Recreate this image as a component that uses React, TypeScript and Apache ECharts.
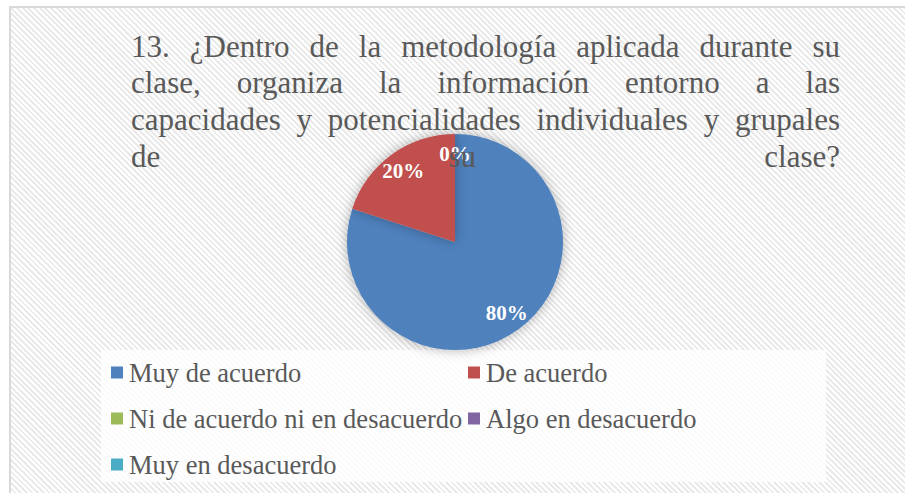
import React, { useEffect, useRef } from "react";
import * as echarts from "echarts";

const categories = [
  "Muy de acuerdo",
  "De acuerdo",
  "Ni de acuerdo ni en desacuerdo",
  "Algo en desacuerdo",
  "Muy en desacuerdo",
];
const values = [80, 20, 0, 0, 0];
const colors = ["#4f81bd", "#c0504d", "#9bbb59", "#8064a2", "#4bacc6"];
const titleLines = [
  "13. ¿Dentro de la metodología aplicada durante su",
  "clase, organiza la información entorno a las",
  "capacidades y potencialidades individuales y grupales",
  "de su clase?",
];

const FONT = "Liberation Serif";

export default function App() {
  const ref = useRef<HTMLDivElement>(null);

  useEffect(() => {
    if (!ref.current) return;
    const chart = echarts.init(ref.current, undefined, { renderer: "svg" });

    const canvas = document.createElement("canvas");
    const ctx = canvas.getContext("2d")!;
    const titleSize = 31;
    ctx.font = `${titleSize}px ${FONT}`;
    const left = 131;
    const right = 840;
    const baselines = [56, 92, 129, 166];
    const titleEls: any[] = [];
    titleLines.forEach((line, li) => {
      const words = line.split(" ");
      const widths = words.map((w) => ctx.measureText(w).width);
      const total = widths.reduce((a, b) => a + b, 0);
      const gap = words.length > 1 ? (right - left - total) / (words.length - 1) : 0;
      let x = left;
      words.forEach((w, wi) => {
        titleEls.push({
          type: "text",
          z: 100,
          x,
          y: baselines[li] - 10,
          style: {
            text: w,
            fontFamily: FONT,
            fontSize: titleSize,
            fill: "#595959",
            align: "left",
            verticalAlign: "middle",
          },
        });
        x += widths[wi] + gap;
      });
    });

    const data = categories.map((name, i) => ({
      name,
      value: values[i],
      itemStyle: { color: colors[i] },
    }));

    const R = 108;
    const center = [455, 242];

    const legendText = {
      fontFamily: FONT,
      fontSize: 26.5,
      lineHeight: 26.5,
      color: "#595959",
      padding: [0, 0, 0, 1],
    };

    chart.setOption({
      animation: false,
      backgroundColor: "transparent",
      graphic: [
        {
          type: "rect",
          z: 0,
          shape: { x: 101, y: 350, width: 725, height: 132 },
          style: { fill: "rgba(255,255,255,0.8)" },
        },
        ...titleEls,
      ],
      legend: [
        {
          orient: "vertical",
          left: 111,
          top: 359,
          padding: 0,
          itemWidth: 12,
          itemHeight: 12,
          itemGap: 19,
          icon: "rect",
          textStyle: legendText,
          data: [0, 2, 4].map((i) => ({ name: categories[i], itemStyle: { color: colors[i] } })),
        },
        {
          orient: "vertical",
          left: 468,
          top: 359,
          padding: 0,
          itemWidth: 12,
          itemHeight: 12,
          itemGap: 19,
          icon: "rect",
          textStyle: legendText,
          data: [1, 3].map((i) => ({ name: categories[i], itemStyle: { color: colors[i] } })),
        },
      ],
      series: [
        {
          type: "pie",
          center,
          radius: R,
          startAngle: 90,
          clockwise: true,
          silent: true,
          label: { show: false },
          labelLine: { show: false },
          itemStyle: {
            borderWidth: 0,
            shadowBlur: 12,
            shadowColor: "rgba(0,0,0,0.3)",
            shadowOffsetX: 0,
            shadowOffsetY: 0,
          },
          data,
        },
        {
          type: "pie",
          center,
          radius: [62, R],
          startAngle: 90,
          clockwise: true,
          silent: true,
          z: 5,
          itemStyle: { color: "transparent", borderWidth: 0 },
          label: {
            show: true,
            position: "inside",
            formatter: "{d}%",
            color: "#ffffff",
            fontFamily: FONT,
            fontWeight: "bold",
            fontSize: 21,
          },
          labelLine: { show: false },
          data: categories.map((name, i) => ({ name, value: values[i] })),
        },
      ],
    });

    return () => chart.dispose();
  }, []);

  return (
    <div
      style={{
        position: "fixed",
        left: 0,
        top: 0,
        width: 905,
        height: 493,
        background: "#ffffff",
        overflow: "hidden",
      }}
    >
      <div
        style={{
          position: "absolute",
          left: 9,
          top: 6,
          width: 910,
          height: 500,
          boxSizing: "border-box",
          border: "2px solid #d9d9d9",
          background:
            "repeating-linear-gradient(45deg, #ffffff 0px, #ffffff 2px, #eaeaea 2px, #eaeaea 4px)",
        }}
      />
      <div
        ref={ref}
        style={{ position: "absolute", left: 0, top: 0, width: 905, height: 493 }}
      />
    </div>
  );
}
